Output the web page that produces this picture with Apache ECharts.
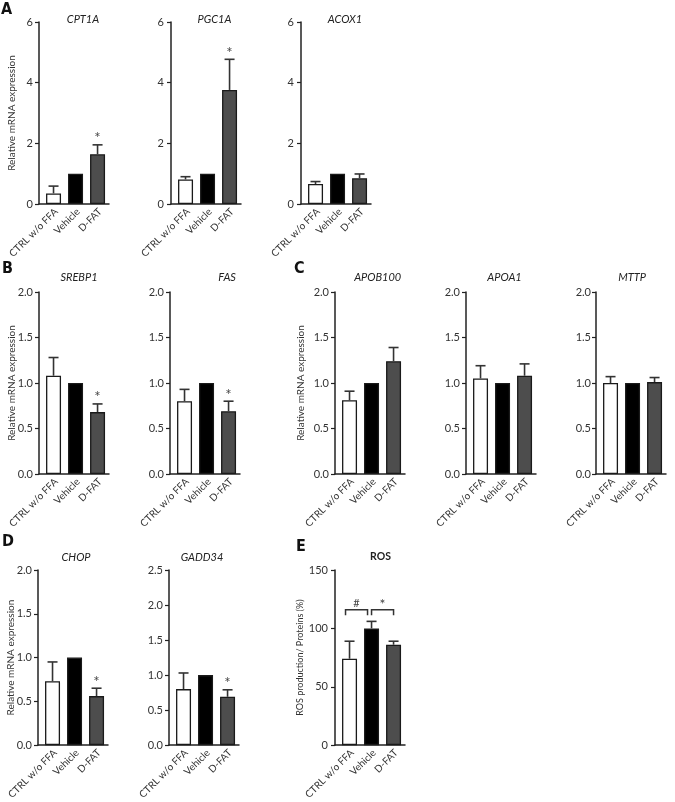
<!DOCTYPE html>
<html>
<head>
<meta charset="utf-8">
<script src="https://cdn.jsdelivr.net/npm/echarts@6/dist/echarts.min.js"></script>
<style>
html,body{margin:0;padding:0;background:#fff;}
#chart{width:675px;height:802px;}
</style>
</head>
<body>
<div id="chart"></div>
<script>
// ---- categories ----
const groups = ['CTRL w/o FFA', 'Vehicle', 'D-FAT'];

// ---- panel A ----
const cpt1aMean = [0.35, 1.00, 1.64];
const cpt1aSem  = [0.24, 0, 0.31];
const cpt1aSig  = [0, 0, 1];
const pgc1aMean = [0.81, 1.00, 3.76];
const pgc1aSem  = [0.09, 0, 1.01];
const pgc1aSig  = [0, 0, 1];
const acox1Mean = [0.66, 1.00, 0.85];
const acox1Sem  = [0.08, 0, 0.14];
const acox1Sig  = [0, 0, 0];

// ---- panel B ----
const srebp1Mean = [1.08, 1.00, 0.68];
const srebp1Sem  = [0.20, 0, 0.09];
const srebp1Sig  = [0, 0, 1];
const fasMean = [0.80, 1.00, 0.69];
const fasSem  = [0.13, 0, 0.11];
const fasSig  = [0, 0, 1];

// ---- panel C ----
const apob100Mean = [0.81, 1.00, 1.24];
const apob100Sem  = [0.10, 0, 0.15];
const apob100Sig  = [0, 0, 0];
const apoa1Mean = [1.05, 1.00, 1.08];
const apoa1Sem  = [0.14, 0, 0.13];
const apoa1Sig  = [0, 0, 0];
const mttpMean = [1.00, 1.00, 1.01];
const mttpSem  = [0.07, 0, 0.05];
const mttpSig  = [0, 0, 0];

// ---- panel D ----
const chopMean = [0.73, 1.00, 0.56];
const chopSem  = [0.22, 0, 0.09];
const chopSig  = [0, 0, 1];
const gadd34Mean = [0.80, 1.00, 0.69];
const gadd34Sem  = [0.23, 0, 0.10];
const gadd34Sig  = [0, 0, 1];

// ---- panel E ----
const rosMean = [74, 100, 86];
const rosSem  = [15, 6, 3];
const rosSig  = [0, 0, 0];
const rosBrackets = [[0, 1, 116], [1, 2, 116]];
const rosBracketMarks = ['#', '*'];

// ---- tick sets ----
const ticksA = [0, 2, 4, 6];
const ticksStd = [0, 0.5, 1.0, 1.5, 2.0];
const ticksGadd = [0, 0.5, 1.0, 1.5, 2.0, 2.5];
const ticksRos = [0, 50, 100, 150];

const mrnaName = 'Relative mRNA expression';
const rosName = 'ROS production/ Proteins (%)';

const barFills = ['#ffffff', '#000000', '#4d4d4d'];
const FONT = 'Lato, "Open Sans", sans-serif';

const panels = [
  {t:'CPT1A',  m:cpt1aMean,  s:cpt1aSem,  g:cpt1aSig,  ax:39,  top:22,  bot:204, ticks:ticksA,   dec:0, name:mrnaName, gap:22, lm:6,  tx:83,    ty:19},
  {t:'PGC1A',  m:pgc1aMean,  s:pgc1aSem,  g:pgc1aSig,  ax:171, top:22,  bot:204, ticks:ticksA,   dec:0, lm:7,  tx:214.5, ty:19},
  {t:'ACOX1',  m:acox1Mean,  s:acox1Sem,  g:acox1Sig,  ax:301, top:22,  bot:204, ticks:ticksA,   dec:0, lm:7,  tx:345,   ty:19},
  {t:'SREBP1', m:srebp1Mean, s:srebp1Sem, g:srebp1Sig, ax:39,  top:292, bot:474, ticks:ticksStd, dec:1, name:mrnaName, gap:22, lm:6, tx:79, ty:277.5},
  {t:'FAS',    m:fasMean,    s:fasSem,    g:fasSig,    ax:170, top:292, bot:474, ticks:ticksStd, dec:1, lm:6, tx:227,   ty:277.5},
  {t:'APOB100',m:apob100Mean,s:apob100Sem,g:apob100Sig,ax:335, top:292, bot:474, ticks:ticksStd, dec:1, name:mrnaName, gap:29, lm:6, tx:377.7, ty:277},
  {t:'APOA1',  m:apoa1Mean,  s:apoa1Sem,  g:apoa1Sig,  ax:466, top:292, bot:474, ticks:ticksStd, dec:1, lm:6, tx:504.5, ty:277},
  {t:'MTTP',   m:mttpMean,   s:mttpSem,   g:mttpSig,   ax:596, top:292, bot:474, ticks:ticksStd, dec:1, lm:5,  tx:632,   ty:277},
  {t:'CHOP',   m:chopMean,   s:chopSem,   g:chopSig,   ax:38,  top:570, bot:752, ticks:ticksStd, dec:1, name:mrnaName, gap:22, lm:6, tx:76, ty:557.5},
  {t:'GADD34', m:gadd34Mean, s:gadd34Sem, g:gadd34Sig, ax:169, top:570, bot:752, ticks:ticksGadd,dec:1, lm:6, tx:202,   ty:557.5},
  {t:'ROS',    m:rosMean,    s:rosSem,    g:rosSig,    ax:335, top:570, bot:752, ticks:ticksRos, dec:0, name:rosName, gap:30, nameSize:9, lm:7, tx:380.5, ty:557, bold:true, brackets:true}
];

const letters = [
  {t:'A', x:1, y:2}, {t:'B', x:2, y:261}, {t:'C', x:294, y:261}, {t:'D', x:2, y:534}, {t:'E', x:296, y:539}
];

const grids = [], xAxes = [], yAxes = [], series = [], graphics = [];
const AXC = '#222';

panels.forEach((p, i) => {
  const tmax = p.ticks[p.ticks.length - 1];
  grids.push({left: p.ax, top: p.top, width: 70, height: p.bot - p.top, containLabel: false});
  xAxes.push({
    type: 'value', gridIndex: i, min: -0.66, max: 2.52,
    axisLine: {show: true, onZero: false, lineStyle: {color: AXC, width: 1.5}},
    axisTick: {show: false},
    splitLine: {show: false},
    axisLabel: {
      customValues: [0.12, 1.12, 2.12], rotate: 45, margin: 6,
      fontFamily: FONT, fontSize: 10, color: '#333',
      formatter: v => groups[Math.round(v)]
    }
  });
  yAxes.push({
    type: 'value', gridIndex: i, min: 0, max: tmax,
    name: p.name || '', nameLocation: 'middle', nameGap: p.gap || 20, nameMoveOverlap: false,
    nameTextStyle: {fontFamily: FONT, fontSize: p.nameSize || 10, color: '#333'},
    axisLine: {show: true, onZero: false, lineStyle: {color: AXC, width: 1.5}},
    axisTick: {show: true, length: 4, customValues: p.ticks, lineStyle: {color: AXC, width: 1.2}},
    splitLine: {show: false},
    axisLabel: {customValues: p.ticks, margin: p.lm, fontFamily: FONT, fontSize: 11, color: '#333',
      formatter: v => Number(v).toFixed(p.dec)}
  });
  series.push({
    type: 'bar', xAxisIndex: i, yAxisIndex: i, barWidth: 15,
    itemStyle: {borderColor: '#1a1a1a', borderWidth: 1.3},
    data: p.m.map((v, k) => ({value: [k, v], itemStyle: {color: barFills[k]}})),
    z: 2
  });
  series.push({
    type: 'custom', xAxisIndex: i, yAxisIndex: i, z: 3,
    data: p.m.map((v, k) => [k, v, p.s[k], p.g[k]]),
    encode: {x: 0, y: 1},
    renderItem: (params, api) => {
      const k = api.value(0), v = api.value(1), e = api.value(2), sig = api.value(3);
      const children = [];
      const base = api.coord([k, v]);
      const topPt = api.coord([k, v + e]);
      if (e > 0) {
        children.push({type: 'line', shape: {x1: base[0], y1: base[1], x2: topPt[0], y2: topPt[1]},
          style: {stroke: '#333', lineWidth: 1.6}});
        children.push({type: 'line', shape: {x1: topPt[0] - 5, y1: topPt[1], x2: topPt[0] + 5, y2: topPt[1]},
          style: {stroke: '#333', lineWidth: 1.6}});
      }
      if (sig) {
        children.push({type: 'text', x: topPt[0], y: topPt[1] + 1,
          style: {text: '*', fontFamily: FONT, fontSize: 15, fill: '#444', align: 'center', verticalAlign: 'bottom'}});
      }
      return {type: 'group', children};
    }
  });
  if (p.brackets) {
    series.push({
      type: 'custom', xAxisIndex: i, yAxisIndex: i, z: 3,
      data: rosBrackets.map((b, j) => [b[0], b[1], b[2], j]),
      encode: {x: 0, y: 2},
      renderItem: (params, api) => {
        const a = api.value(0), b = api.value(1), y = api.value(2), j = api.value(3);
        const p1 = api.coord([a, y]), p2 = api.coord([b, y]);
        const x1 = p1[0] - 4 + 4 * j, x2 = p2[0] - 4 + 4 * j, yy = p1[1];
        return {type: 'group', children: [
          {type: 'polyline', shape: {points: [[x1, yy + 5.5], [x1, yy], [x2, yy], [x2, yy + 5.5]]},
            style: {stroke: '#333', lineWidth: 1.5, fill: null}},
          {type: 'text', x: (x1 + x2) / 2, y: yy + (j === 1 ? 2 : -1),
            style: {text: rosBracketMarks[j], fontFamily: FONT, fontSize: j === 1 ? 14 : 11, fill: '#444', align: 'center', verticalAlign: 'bottom'}}
        ]};
      }
    });
  }
  graphics.push({type: 'text', x: p.tx, y: p.ty,
    style: {text: p.t, fontFamily: FONT, fontSize: p.bold ? 10.5 : 11, fontStyle: p.bold ? 'normal' : 'italic',
      fontWeight: p.bold ? 'bold' : 'normal', fill: '#222', align: 'center', verticalAlign: 'middle'}});
});

letters.forEach(L => {
  graphics.push({type: 'text', x: L.x, y: L.y,
    style: {text: L.t, fontFamily: '"Liberation Sans Narrow", "DejaVu Sans Condensed", sans-serif', fontSize: 16,
      fontWeight: 'bold', fill: '#111', align: 'left', verticalAlign: 'top'}});
});

const chart = echarts.init(document.getElementById('chart'), null, {renderer: 'canvas'});
chart.setOption({
  animation: false,
  backgroundColor: '#fff',
  grid: grids, xAxis: xAxes, yAxis: yAxes, series: series,
  graphic: graphics
});
</script>
</body>
</html>
